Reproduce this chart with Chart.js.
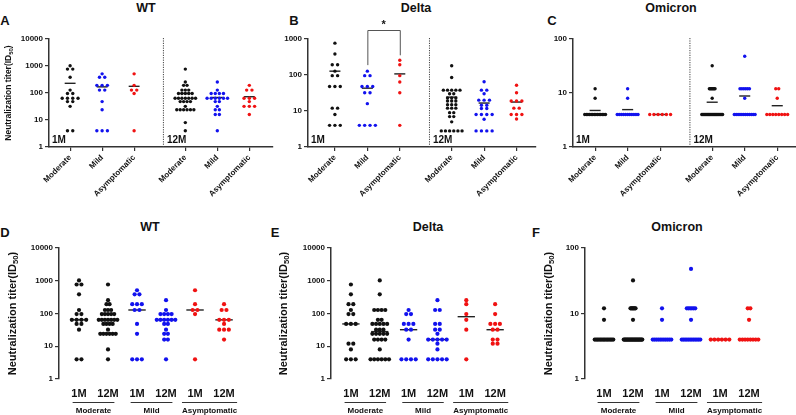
<!DOCTYPE html>
<html>
<head>
<meta charset="utf-8">
<script src="https://cdn.jsdelivr.net/npm/chart.js@4.4.0/dist/chart.umd.min.js"></script>
<style>
  body{margin:0;background:#fff;width:796px;height:415px;position:relative;overflow:hidden;font-family:Arial,"Liberation Sans",sans-serif;}
  .lbl{position:absolute;font-weight:bold;color:#111;transform:translate(-50%,-50%);white-space:nowrap;line-height:1;}
  .ttl{font-size:12.5px;}
  .let{font-size:13px;}
</style>
</head>
<body>
<div class="lbl let" style="left:5px;top:20px">A</div>
<div class="lbl ttl" style="left:146px;top:8px">WT</div>
<div class="lbl let" style="left:294px;top:20px">B</div>
<div class="lbl ttl" style="left:416px;top:8px">Delta</div>
<div class="lbl let" style="left:552px;top:20px">C</div>
<div class="lbl ttl" style="left:671px;top:8px">Omicron</div>
<div class="lbl let" style="left:5px;top:232px">D</div>
<div class="lbl ttl" style="left:150px;top:227px">WT</div>
<div class="lbl let" style="left:275px;top:232px">E</div>
<div class="lbl ttl" style="left:428px;top:227px">Delta</div>
<div class="lbl let" style="left:536px;top:232px">F</div>
<div class="lbl ttl" style="left:677px;top:227px">Omicron</div>
<script>
// --- data: neutralization titers (ID50) ---
const groups = ['Moderate', 'Mild', 'Asymptomatic'];
const times = ['1M', '12M'];

// WT (panels A and D)
const wt1Mod  = [1024, 768, 768, 384, 128, 96, 96, 64, 64, 64, 64, 48, 48, 32, 4, 4];
const wt1Mild = [512, 384, 384, 192, 192, 192, 128, 128, 48, 24, 4, 4, 4];
const wt1Asym = [512, 192, 128, 128, 96, 4];
const wt12Mod  = [768, 256, 192, 192, 128, 128, 128, 96, 96, 96, 96, 96, 64, 64, 64, 64, 64, 64, 64, 48, 48, 48, 48, 32, 24, 24, 24, 24, 24, 24, 8, 4];
const wt12Mild = [256, 128, 96, 96, 96, 96, 64, 64, 64, 64, 64, 64, 48, 48, 32, 24, 24, 16, 16, 4];
const wt12Asym = [192, 128, 128, 64, 64, 64, 48, 32, 32, 32, 16];

// Delta 1M (panels B and E)
const dl1Mod  = [768, 384, 192, 192, 128, 96, 96, 48, 48, 48, 12, 12, 8, 4, 4, 4];
const dl1Mild = [128, 96, 96, 48, 48, 48, 32, 32, 16, 4, 4, 4, 4];
const dl1Asym = [256, 192, 96, 64, 32, 4];
// Delta 12M as plotted in panel B
const dlB12Mod  = [180, 85, 38, 38, 38, 38, 38, 30, 30, 23, 23, 23, 19, 19, 19, 15, 15, 15, 12, 12, 12, 9, 9, 7, 7, 5, 2.8, 2.8, 2.8, 2.8, 2.8, 2.8];
const dlB12Mild = [65, 38, 38, 30, 20, 20, 20, 14.5, 14.5, 11.7, 11.7, 8, 8, 8, 8, 5.9, 2.8, 2.8, 2.8, 2.8];
const dlB12Asym = [52, 32, 19, 19, 19, 12, 12, 8, 8, 8, 6];
// Delta 12M as plotted in panel E
const dlE12Mod  = [1024, 384, 128, 128, 128, 128, 64, 64, 48, 48, 48, 48, 48, 32, 32, 32, 24, 24, 24, 24, 24, 16, 16, 16, 16, 8, 4, 4, 4, 4, 4, 4];
const dlE12Mild = [256, 128, 128, 48, 48, 32, 32, 24, 16, 16, 16, 16, 16, 12, 8, 4, 4, 4, 4, 4];
const dlE12Asym = [192, 96, 48, 48, 48, 32, 32, 16, 16, 12, 12];

// Omicron (panels C and F)
const om1Mod  = [12, 8, 4, 4, 4, 4, 4, 4, 4, 4, 4, 4, 4, 4, 4, 4];
const om1Mild = [12, 8, 4, 4, 4, 4, 4, 4, 4, 4, 4, 4, 4];
const om1Asym = [4, 4, 4, 4, 4, 4];
const om12Mod  = [32, 12, 12, 12, 12, 12, 12, 12, 8, 4, 4, 4, 4, 4, 4, 4, 4, 4, 4, 4, 4, 4, 4, 4, 4, 4, 4, 4, 4, 4, 4, 4];
const om12Mild = [48, 12, 12, 12, 12, 12, 12, 8, 4, 4, 4, 4, 4, 4, 4, 4, 4, 4, 4, 4];
const om12Asym = [12, 12, 8, 4, 4, 4, 4, 4, 4, 4, 4];

const BLACK = '#111111', BLUE = '#1212ee', RED = '#f01212';
const FONT = 'Arial, "Liberation Sans", sans-serif';
Chart.defaults.font.family = FONT;
Chart.defaults.color = '#111';

// helpers
function mean(a){ return a.reduce((s, v) => s + v, 0) / a.length; }
function median(a){
  const s = [...a].sort((p, q) => p - q), n = s.length;
  return n % 2 ? s[(n-1)/2] : (s[n/2-1] + s[n/2]) / 2;
}
// simple beeswarm: equal values spread sideways around the category centre,
// one spacing per column, squeezed by the busiest row (like Prism does)
function swarm(values, pos, step, maxW){
  const rows = {};
  values.forEach(v => { (rows[v] = rows[v] || []).push(v); });
  const nMax = Math.max(...Object.values(rows).map(r => r.length));
  const s = nMax > 1 ? Math.min(step, maxW / (nMax - 1)) : 0;
  const out = [];
  Object.keys(rows).forEach(k => {
    const n = rows[k].length;
    rows[k].forEach((v, i) => out.push({ x: pos + (i - (n - 1) / 2) * s, y: v }));
  });
  return out;
}
function decades(max){ const t = []; for(let v = 1; v <= max; v *= 10) t.push({ value: v }); return t; }

function drawYTitle(ctx, x, y, size){
  const main = 'Neutralization titer(ID', sub = '50', end = ')';
  ctx.save();
  ctx.translate(x, y);
  ctx.rotate(-Math.PI / 2);
  ctx.fillStyle = '#111';
  ctx.textBaseline = 'middle';
  ctx.textAlign = 'left';
  ctx.font = `bold ${size}px ${FONT}`;
  const w1 = ctx.measureText(main).width, w3 = ctx.measureText(end).width;
  ctx.font = `bold ${size*0.7}px ${FONT}`;
  const w2 = ctx.measureText(sub).width;
  let sx = -(w1 + w2 + w3) / 2;
  ctx.font = `bold ${size}px ${FONT}`;
  ctx.fillText(main, sx, 0);
  ctx.font = `bold ${size*0.7}px ${FONT}`;
  ctx.fillText(sub, sx + w1, size * 0.3);
  ctx.font = `bold ${size}px ${FONT}`;
  ctx.fillText(end, sx + w1 + w2, 0);
  ctx.restore();
}

function makePanel(cfg){
  const cv = document.createElement('canvas');
  const yW = cfg.axisX - cfg.left;
  const width = Math.round(yW + (cfg.xMax - cfg.xMin) * cfg.catPx + 6);
  cv.width = width; cv.height = cfg.height;
  cv.style.cssText = `position:absolute;left:${cfg.left}px;top:${cfg.top}px;width:${width}px;height:${cfg.height}px`;
  document.body.appendChild(cv);

  const datasets = [];
  cfg.sets.forEach((vals, i) => {
    const p = cfg.pos[i];
    if(cfg.stat){
      const m = cfg.stat(vals);
      datasets.push({ type: 'line', data: [{ x: p - cfg.lineHalf, y: m }, { x: p + cfg.lineHalf, y: m }],
        borderColor: '#222', borderWidth: 1.4, pointRadius: 0, order: 2 });
    }
    datasets.push({ type: 'scatter', data: swarm(vals, p, 0.165, 0.64), backgroundColor: cfg.colors[i],
      pointRadius: cfg.r, pointHoverRadius: cfg.r, borderWidth: 0, order: 1 });
  });

  const extras = {
    id: 'extras',
    afterDraw(chart){
      const ctx = chart.ctx, a = chart.chartArea, xs = chart.scales.x, ys = chart.scales.y;
      if(cfg.yTitle) drawYTitle(ctx, cfg.yTitle.x - cfg.left, (a.top + a.bottom) / 2, cfg.yTitle.size);
      if(cfg.sep != null){
        const sx = xs.getPixelForValue(cfg.sep);
        ctx.save();
        ctx.strokeStyle = '#444'; ctx.lineWidth = 1; ctx.setLineDash([1.2, 1.2]);
        ctx.beginPath(); ctx.moveTo(sx + 0.5, a.top - 1); ctx.lineTo(sx + 0.5, a.bottom); ctx.stroke();
        ctx.restore();
        ctx.save();
        ctx.fillStyle = '#111'; ctx.font = `bold 10px ${FONT}`; ctx.textBaseline = 'middle'; ctx.textAlign = 'left';
        ctx.fillText(times[0], a.left + 3, a.bottom - 7);
        ctx.fillText(times[1], sx + 4, a.bottom - 7);
        ctx.restore();
      }
      if(cfg.groupsBelow){
        ctx.save();
        ctx.font = `bold 8px ${FONT}`; ctx.fillStyle = '#111'; ctx.strokeStyle = '#333'; ctx.lineWidth = 1;
        ctx.textAlign = 'center'; ctx.textBaseline = 'middle';
        groups.forEach((g, k) => {
          const c = xs.getPixelForValue(2 * k + 0.5);
          const half = Math.max(0.72 * cfg.catPx, ctx.measureText(g).width / 2);
          ctx.beginPath(); ctx.moveTo(c - half, a.bottom + 23.5); ctx.lineTo(c + half, a.bottom + 23.5); ctx.stroke();
          ctx.fillText(g, c, a.bottom + 32);
        });
        ctx.restore();
      }
      if(cfg.bracket){
        const [i1, i2] = cfg.bracket;
        const x1 = xs.getPixelForValue(cfg.pos[i1]), x2 = xs.getPixelForValue(cfg.pos[i2]);
        const yTop = a.top - 9;
        const y1 = ys.getPixelForValue(Math.max(...cfg.sets[i1])) - 6;
        const y2 = ys.getPixelForValue(Math.max(...cfg.sets[i2])) - 5;
        ctx.save();
        ctx.strokeStyle = '#555'; ctx.lineWidth = 1;
        ctx.beginPath(); ctx.moveTo(x1 + 0.5, y1); ctx.lineTo(x1 + 0.5, yTop + 0.5); ctx.lineTo(x2 + 0.5, yTop + 0.5); ctx.lineTo(x2 + 0.5, y2); ctx.stroke();
        ctx.fillStyle = '#111'; ctx.font = `bold 11px ${FONT}`; ctx.textAlign = 'center'; ctx.textBaseline = 'middle';
        ctx.fillText('*', (x1 + x2) / 2, yTop - 5);
        ctx.restore();
      }
    }
  };

  new Chart(cv, {
    type: 'scatter',
    data: { datasets },
    options: {
      responsive: false, animation: false, devicePixelRatio: 1, events: [],
      layout: { padding: { top: cfg.padTop, right: 6, left: 0, bottom: 0 } },
      plugins: { legend: { display: false }, tooltip: { enabled: false } },
      scales: {
        x: {
          type: 'linear', min: cfg.xMin, max: cfg.xMax,
          afterBuildTicks: s => { s.ticks = cfg.pos.map(v => ({ value: v })); },
          afterFit: s => { s.height = cfg.xH; },
          ticks: {
            autoSkip: false, minRotation: cfg.rot, maxRotation: cfg.rot, padding: cfg.xPad,
            font: { size: cfg.xFont, weight: 'bold' }, color: '#111',
            callback: (v, i) => cfg.xLabels[i]
          },
          grid: { display: cfg.xAxisLine, drawOnChartArea: false, drawTicks: cfg.xAxisLine, tickLength: 4, color: '#333', lineWidth: 1.2 },
          border: { display: cfg.xAxisLine, color: '#333', width: 1.5 }
        },
        y: {
          type: 'logarithmic', min: 1, max: cfg.yMax,
          afterBuildTicks: s => { s.ticks = decades(cfg.yMax); },
          afterFit: s => { s.width = yW; },
          ticks: { padding: 2, font: { size: 8, weight: 'bold' }, color: '#111', callback: v => String(v) },
          grid: { drawOnChartArea: false, drawTicks: true, tickLength: 4, color: '#333', lineWidth: 1.2 },
          border: { color: '#333', width: 1.5 }
        }
      }
    },
    plugins: [extras]
  });
}

// top row: 1M and 12M side by side, group labels rotated
const topPos = [0, 1, 2, 3.6, 4.6, 5.6];
const topLabels = [...groups, ...groups];
const topColors = [BLACK, BLUE, RED, BLACK, BLUE, RED];
const topBase = { top: 14, height: 186, padTop: 25, xH: 53, pos: topPos, xLabels: topLabels, colors: topColors,
  rot: 45, xPad: 2, xFont: 8, xAxisLine: true, sep: 2.9, r: 1.7, stat: mean, lineHalf: 0.17 };

makePanel({ ...topBase, left: 0, axisX: 49, catPx: 32, xMin: -0.66, xMax: 6.34, yMax: 10000,
  yTitle: { x: 9, size: 8.5 }, sets: [wt1Mod, wt1Mild, wt1Asym, wt12Mod, wt12Mild, wt12Asym] });
makePanel({ ...topBase, left: 262, axisX: 308, catPx: 32.5, xMin: -0.83, xMax: 6.2, yMax: 1000,
  sets: [dl1Mod, dl1Mild, dl1Asym, dlB12Mod, dlB12Mild, dlB12Asym], bracket: [1, 2] });
makePanel({ ...topBase, left: 530, axisX: 573, catPx: 32.5, xMin: -0.68, xMax: 6.3, yMax: 100,
  sets: [om1Mod, om1Mild, om1Asym, om12Mod, om12Mild, om12Asym] });

// bottom row: 1M / 12M pairs under each group
const botPos = [0, 1, 2, 3, 4, 5];
const botLabels = [times[0], times[1], times[0], times[1], times[0], times[1]];
const botColors = [BLACK, BLACK, BLUE, BLUE, RED, RED];
const botBase = { top: 225, height: 190, padTop: 23, xH: 36, pos: botPos, xLabels: botLabels, colors: botColors,
  rot: 0, xPad: 8, xFont: 11, xAxisLine: false, sep: null, groupsBelow: true, r: 2.1, stat: median, lineHalf: 0.3 };

makePanel({ ...botBase, left: 0, axisX: 59, catPx: 29, xMin: -0.69, xMax: 5.55, yMax: 10000,
  yTitle: { x: 13, size: 11 }, sets: [wt1Mod, wt12Mod, wt1Mild, wt12Mild, wt1Asym, wt12Asym] });
makePanel({ ...botBase, left: 272, axisX: 331, catPx: 28.8, xMin: -0.69, xMax: 5.55, yMax: 10000,
  yTitle: { x: 284, size: 11 }, sets: [dl1Mod, dlE12Mod, dl1Mild, dlE12Mild, dl1Asym, dlE12Asym] });
makePanel({ ...botBase, left: 526, axisX: 585, catPx: 29, xMin: -0.655, xMax: 5.55, yMax: 100,
  yTitle: { x: 549, size: 11 }, sets: [om1Mod, om12Mod, om1Mild, om12Mild, om1Asym, om12Asym] });
</script>
</body>
</html>
